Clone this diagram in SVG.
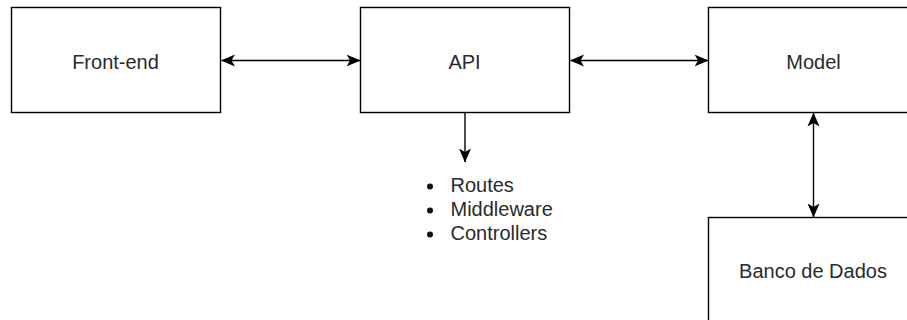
<svg xmlns="http://www.w3.org/2000/svg" width="907" height="320" viewBox="0 0 907 320">
  <style>
    .box { fill: #ffffff; stroke: #000000; stroke-width: 1.4; }
    .label { font-family: "Liberation Sans", Arial, sans-serif; font-size: 20px; fill: #2a2a2a; }
    .mid { text-anchor: middle; }
    .edge { fill: none; stroke: #000000; stroke-width: 1.4; }
    .bullet { fill: #111111; }
  </style>
  <defs>
    <marker id="arrow" viewBox="0 0 14 13" refX="13.5" refY="6.5" markerWidth="14" markerHeight="13" markerUnits="userSpaceOnUse" orient="auto-start-reverse">
      <path d="M0,0.5 L14,6.5 L0,12.5 L3.5,6.5 Z" fill="#000000"/>
    </marker>
  </defs>
  <rect width="907" height="320" fill="#ffffff"/>

  <g id="connectors">
    <line class="edge" x1="221.5" y1="60.5" x2="360" y2="60.5" marker-start="url(#arrow)" marker-end="url(#arrow)"/>
    <line class="edge" x1="570.5" y1="60.5" x2="708" y2="60.5" marker-start="url(#arrow)" marker-end="url(#arrow)"/>
    <line class="edge" x1="813.5" y1="113" x2="813.5" y2="217" marker-start="url(#arrow)" marker-end="url(#arrow)"/>
    <line class="edge" x1="465" y1="112.5" x2="465" y2="162" marker-end="url(#arrow)"/>
  </g>

  <g id="front-end">
    <rect class="box" x="11.5" y="7.5" width="209" height="105"/>
    <text class="label mid" x="115.5" y="68.5">Front-end</text>
  </g>

  <g id="api">
    <rect class="box" x="360.5" y="7.5" width="209" height="105"/>
    <text class="label mid" x="464.5" y="68.5">API</text>
  </g>

  <g id="model">
    <rect class="box" x="708.5" y="7.5" width="210" height="105"/>
    <text class="label mid" x="813.5" y="68.5">Model</text>
  </g>

  <g id="banco-de-dados">
    <rect class="box" x="708.5" y="217.5" width="210" height="120"/>
    <text class="label mid" x="813" y="277.5">Banco de Dados</text>
  </g>

  <g id="api-items">
    <circle class="bullet" cx="430" cy="186.5" r="3"/>
    <circle class="bullet" cx="430" cy="210.5" r="3"/>
    <circle class="bullet" cx="430" cy="234.5" r="3"/>
    <text class="label" x="450.5" y="191.5">Routes</text>
    <text class="label" x="450.5" y="215.5">Middleware</text>
    <text class="label" x="450.5" y="239.5">Controllers</text>
  </g>
</svg>
